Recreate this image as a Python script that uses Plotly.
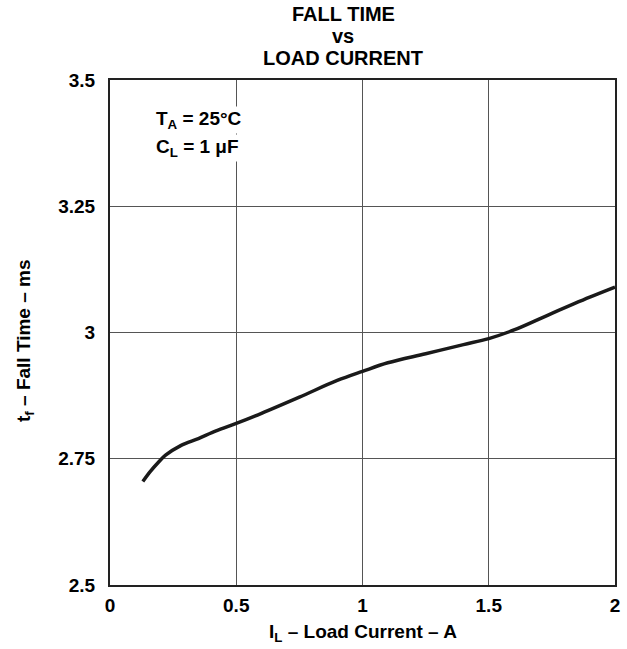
import plotly.graph_objects as go

current_a = [0.13, 0.16, 0.19, 0.22, 0.28, 0.35, 0.42, 0.5, 0.6, 0.75, 0.9, 1.0,
             1.1, 1.25, 1.4, 1.5, 1.6, 1.75, 1.9, 2.0]
fall_time_ms = [2.705, 2.725, 2.742, 2.757, 2.776, 2.79, 2.805, 2.82, 2.84, 2.872,
                2.905, 2.923, 2.94, 2.958, 2.976, 2.988, 3.005, 3.038, 3.07, 3.09]

x_ticks = [0, 0.5, 1, 1.5, 2]
x_tick_labels = ["0", "0.5", "1", "1.5", "2"]
y_ticks = [2.5, 2.75, 3, 3.25, 3.5]
y_tick_labels = ["2.5", "2.75", "3", "3.25", "3.5"]

FONT = "Liberation Sans, Arial, sans-serif"
W, H = 627, 649
L, R, T, B = 110, 615, 80, 585  # plot frame in pixels
PW, PH = R - L, B - T


def px(xp):
    return (xp - L) / PW


def py(yp):
    return (B - yp) / PH


fig = go.Figure()
fig.add_trace(go.Scatter(x=current_a, y=fall_time_ms, mode="lines",
                         line=dict(color="#1a1a1a", width=3.5, shape="spline"),
                         showlegend=False, hoverinfo="skip"))

fig.update_layout(
    width=W, height=H,
    margin=dict(l=L, r=W - R, t=T, b=H - B, autoexpand=False),
    paper_bgcolor="white", plot_bgcolor="white",
    font=dict(family=FONT, size=19, color="black"),
    xaxis=dict(range=[0, 2], tickvals=x_ticks, ticktext=[f"<b>{t}</b>" for t in x_tick_labels],
               showgrid=True, gridcolor="#555", gridwidth=1,
               showline=True, linecolor="#222", linewidth=2, mirror=True,
               zeroline=False, ticks="", tickfont=dict(size=19), ticklabelstandoff=2),
    yaxis=dict(range=[2.5, 3.5], tickvals=y_ticks, ticktext=[f"<b>{t}</b>" for t in y_tick_labels],
               showgrid=True, gridcolor="#555", gridwidth=1,
               showline=True, linecolor="#222", linewidth=2, mirror=True,
               zeroline=False, ticks="", tickfont=dict(size=19), ticklabelstandoff=9),
)

title_font = dict(family=FONT, size=20, color="black")
for txt, yc in [("FALL TIME", 14), ("vs", 36), ("LOAD CURRENT", 58)]:
    fig.add_annotation(xref="paper", yref="paper", x=px(343), y=py(yc),
                       xanchor="center", yanchor="middle", text=f"<b>{txt}</b>",
                       showarrow=False, font=title_font)

fig.add_annotation(xref="paper", yref="paper", x=px(363), y=py(633),
                   xanchor="center", yanchor="middle",
                   text="<b>I<sub>L</sub> – Load Current – A</b>",
                   showarrow=False, font=dict(family=FONT, size=19, color="black"))
fig.add_annotation(xref="paper", yref="paper", x=px(25), y=py(341),
                   xanchor="center", yanchor="middle", textangle=-90,
                   text="<b>t<sub>f</sub> – Fall Time – ms</b>",
                   showarrow=False, font=dict(family=FONT, size=19, color="black"))

fig.add_annotation(xref="paper", yref="paper", x=px(154), y=py(120),
                   xanchor="left", yanchor="middle",
                   text="<b>T<sub>A</sub> = 25°C</b>", showarrow=False, bgcolor="white",
                   font=dict(family=FONT, size=19, color="black"))
fig.add_annotation(xref="paper", yref="paper", x=px(154), y=py(148),
                   xanchor="left", yanchor="middle",
                   text="<b>C<sub>L</sub> = 1 μF</b>", showarrow=False, bgcolor="white",
                   font=dict(family=FONT, size=19, color="black"))

fig.write_html("out.html", config={"displayModeBar": False},
               post_script="document.body.style.margin='0';")
